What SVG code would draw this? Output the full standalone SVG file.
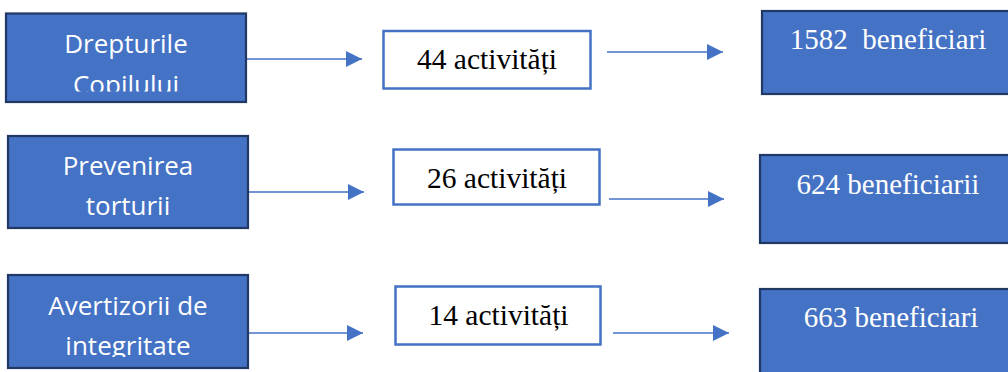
<svg xmlns="http://www.w3.org/2000/svg" width="1008" height="372" viewBox="0 0 1008 372">
  <style>
    .blue { fill: #4472C4; stroke: #1F3864; stroke-width: 2.2; }
    .mid { fill: #FFFFFF; stroke: #4472C4; stroke-width: 2.5; }
    .lt { font-family: "Open Sans", "Liberation Sans", sans-serif; font-size: 26px; fill: #FFFFFF; text-anchor: middle; }
    .mt { font-family: "Liberation Serif", "Times New Roman", serif; font-size: 29.5px; fill: #000000; text-anchor: middle; }
    .rt { font-family: "Liberation Serif", "Times New Roman", serif; font-size: 29px; fill: #FFFFFF; text-anchor: middle; white-space: pre; }
    .conn { stroke: #4472C4; stroke-width: 1.6; fill: none; }
  </style>
  <defs>
    <marker id="arr" markerUnits="userSpaceOnUse" markerWidth="16" markerHeight="16" refX="16" refY="8" orient="auto">
      <path d="M0,0 L16,8 L0,16 Z" fill="#4472C4"/>
    </marker>
    <clipPath id="clip1"><rect x="6" y="13" width="240" height="78.5"/></clipPath>
    <clipPath id="clip3"><rect x="8" y="275" width="240" height="82"/></clipPath>
  </defs>
  <rect width="1008" height="372" fill="#FFFFFF"/>

  <g id="connectors">
    <line class="conn" x1="247" y1="59" x2="362" y2="59" marker-end="url(#arr)"/>
    <line class="conn" x1="607" y1="52" x2="723" y2="52" marker-end="url(#arr)"/>
    <line class="conn" x1="249" y1="192" x2="364" y2="192" marker-end="url(#arr)"/>
    <line class="conn" x1="609" y1="199" x2="724" y2="199" marker-end="url(#arr)"/>
    <line class="conn" x1="249" y1="333" x2="363" y2="333" marker-end="url(#arr)"/>
    <line class="conn" x1="613" y1="333" x2="729" y2="333" marker-end="url(#arr)"/>
  </g>

  <g id="drepturile">
    <rect class="blue" x="6" y="13.5" width="240" height="88.5"/>
    <g clip-path="url(#clip1)">
      <text class="lt" x="126" y="53">Drepturile</text>
      <text class="lt" x="126" y="94">Copilului</text>
    </g>
  </g>
  <g id="prevenirea">
    <rect class="blue" x="8" y="136" width="240" height="92"/>
    <text class="lt" x="128" y="175">Prevenirea</text>
    <text class="lt" x="128" y="215">torturii</text>
  </g>
  <g id="avertizorii">
    <rect class="blue" x="8" y="275" width="240" height="93"/>
    <g clip-path="url(#clip3)">
      <text class="lt" x="128" y="315">Avertizorii de</text>
      <text class="lt" x="128" y="355">integritate</text>
    </g>
  </g>

  <g id="act44">
    <rect class="mid" x="383.5" y="31" width="207" height="57.5"/>
    <text class="mt" x="487" y="69">44 activități</text>
  </g>
  <g id="act26">
    <rect class="mid" x="393.5" y="149.5" width="206" height="55"/>
    <text class="mt" x="497" y="188">26 activități</text>
  </g>
  <g id="act14">
    <rect class="mid" x="395.5" y="286.5" width="205" height="58"/>
    <text class="mt" x="498.5" y="324.5">14 activități</text>
  </g>

  <g id="ben1582">
    <rect class="blue" x="762" y="11" width="260" height="83"/>
    <text class="rt" x="888" y="49">1582  beneficiari</text>
  </g>
  <g id="ben624">
    <rect class="blue" x="760" y="155" width="260" height="88"/>
    <text class="rt" x="888" y="194">624 beneficiarii</text>
  </g>
  <g id="ben663">
    <rect class="blue" x="760" y="289" width="260" height="100"/>
    <text class="rt" x="891" y="327">663 beneficiari</text>
  </g>
</svg>
